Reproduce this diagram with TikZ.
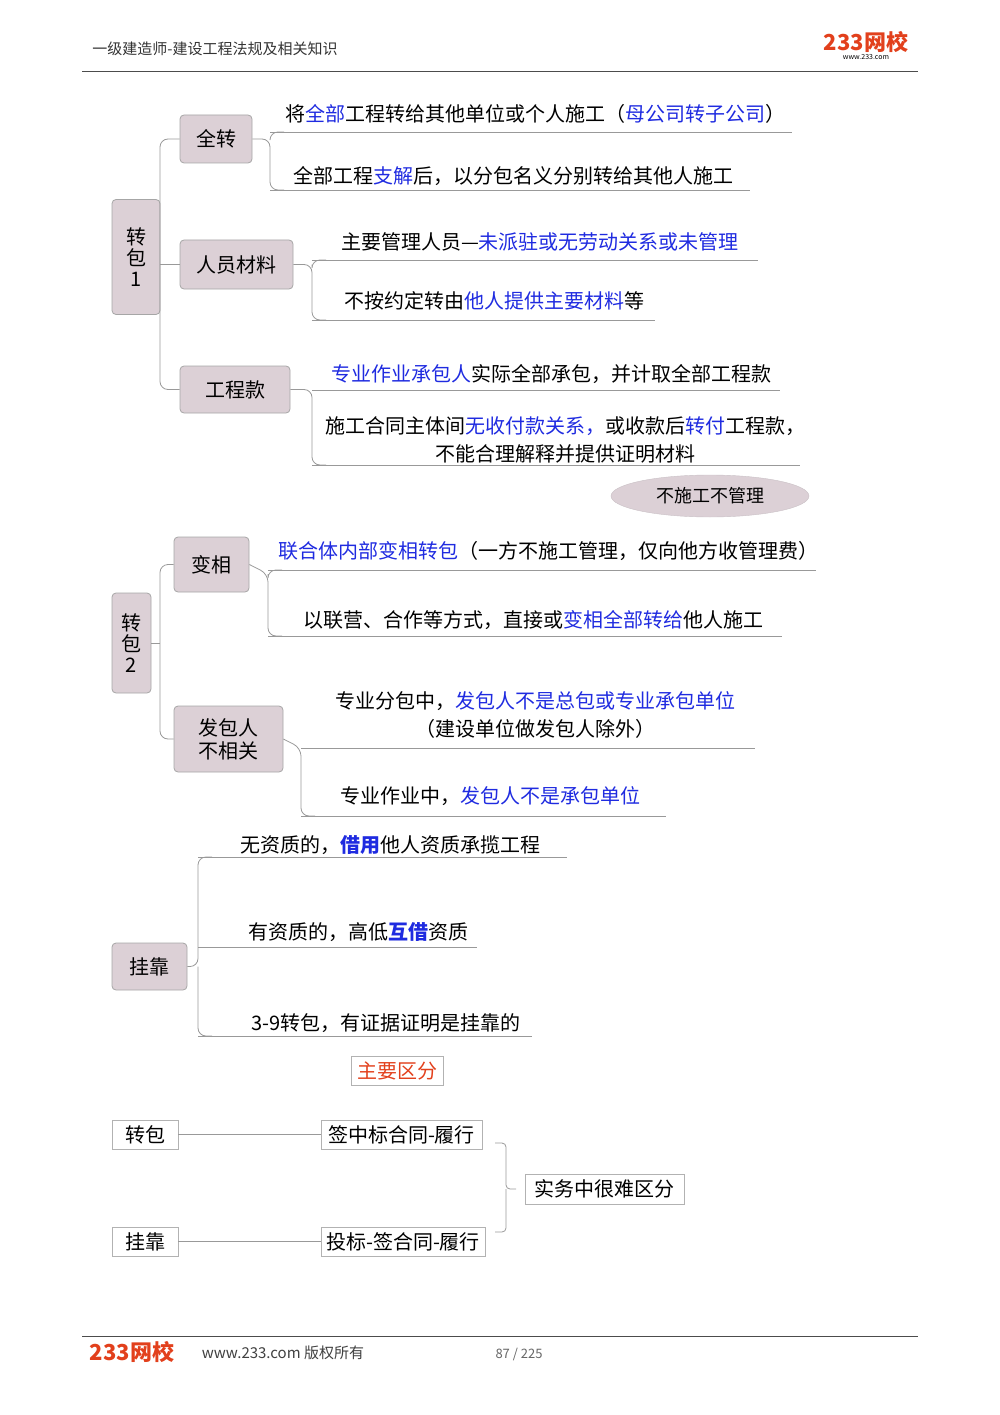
\documentclass[tikz,border=0pt]{standalone}
\usepackage{fontspec}
\setmainfont{Noto Sans CJK SC}
\usetikzlibrary{shapes.geometric}
\definecolor{bl}{HTML}{1F2BE0}
\definecolor{mv}{HTML}{DCD0D6}
\definecolor{rd}{HTML}{E2401C}
\newcommand{\B}[1]{\textcolor{bl}{#1}}
\tikzset{
 x=1pt,y=-1pt,
 cat/.style={draw=gray!70,fill=mv,rounded corners=4pt,line width=0.8pt,inner sep=0pt,font=\fontsize{20}{23}\selectfont},
 leaf/.style={font=\fontsize{20}{28}\selectfont,inner sep=0pt,align=center},
 ul/.style={draw=gray!80,line width=0.8pt},
 br/.style={draw=gray!80,line width=0.8pt,rounded corners=8pt},
 sq/.style={draw=gray!60,line width=0.8pt,inner sep=0pt,font=\fontsize{20}{23}\selectfont},
}
\begin{document}
\begin{tikzpicture}
\useasboundingbox (0,0) rectangle (1000,1415);
% header
\node[font=\fontsize{15}{18}\selectfont,text=black!80] (hd) at (215,49) {一级建造师-建设工程法规及相关知识};
\node[font=\fontsize{22}{22}\selectfont\bfseries,text=rd] (lg) at (866,42) {233网校};
\node[font=\fontsize{7}{7}\selectfont] (lgw) at (866,57) {www.233.com};
\draw[line width=1pt,black!70] (82,72) -- (918,72);
% footer
\draw[line width=1pt,black!70] (82,1336) -- (918,1336);
\node[font=\fontsize{22}{22}\selectfont\bfseries,text=rd] (flg) at (132,1352) {233网校};
\node[font=\fontsize{15}{18}\selectfont,text=black!75] (fw) at (283,1353) {www.233.com 版权所有};
\node[font=\fontsize{13}{16}\selectfont,text=black!60] (pg) at (519,1354) {87 / 225};

% ===== section 1
\node[cat,minimum width=48,minimum height=115,align=center] (z1) at (136,257) {转\\[-2pt]包\\[-2pt]1};
\node[cat,minimum width=72,minimum height=48] (qz) at (216,139) {全转};
\node[cat,minimum width=113,minimum height=49] (ry) at (236.5,264.5) {人员材料};
\node[cat,minimum width=110,minimum height=47] (gk) at (235,389.5) {工程款};
\draw[br] (qz.west) -- (160,139) -- (160,389.5) -- (gk.west);
\draw[br] (160,264.5) -- (ry.west);

\node[leaf] (a1) at (535,114) {将\B{全部}工程转给其他单位或个人施工（\B{母公司转子公司}）};
\node[leaf] (a2) at (513,176) {全部工程\B{支解}后，以分包名义分别转给其他人施工};
\draw[ul] (270,132) -- (792,132); \draw[ul] (270,190) -- (750,190);
\draw[br] (qz.east) -- (270,139) -- (270,190) -- (284,190);
\draw[br] (270,139) -- (270,132) -- (284,132);

\node[leaf] (b1) at (540,242) {主要管理人员—\B{未派驻或无劳动关系或未管理}};
\node[leaf] (b2) at (494,301) {不按约定转由\B{他人提供主要材料}等};
\draw[ul] (312,260) -- (758,260); \draw[ul] (312,320) -- (655,320);
\draw[br] (ry.east) -- (312,264.5) -- (312,320) -- (326,320);
\draw[br] (312,264.5) -- (312,260) -- (326,260);

\node[leaf] (c1) at (551,374) {\B{专业作业承包人}实际全部承包，并计取全部工程款};
\node[leaf] (c2) at (565,440) {施工合同主体间\B{无收付款关系，}或收款后\B{转付}工程款，\\不能合理解释并提供证明材料};
\draw[ul] (312,390) -- (780,390); \draw[ul] (312,465) -- (800,465);
\draw[br] (gk.east) -- (312,389.5) -- (312,465) -- (326,465);

\node[ellipse,fill=mv,draw=mv!80!gray,minimum width=198,minimum height=42,inner sep=0pt,font=\fontsize{18}{22}\selectfont] (bs) at (710,496) {不施工不管理};

% ===== section 2
\node[cat,minimum width=39,minimum height=100,align=center] (z2) at (131.5,643) {转\\[-2pt]包\\[-2pt]2};
\node[cat,minimum width=75,minimum height=55] (bx) at (211.5,564.5) {变相};
\node[cat,minimum width=109,minimum height=66,align=center,font=\fontsize{20}{23}\selectfont] (fb) at (228.5,739) {发包人\\不相关};
\draw[br] (bx.west) -- (160,564.5) -- (160,739) -- (fb.west);
\draw[br] (z2.east) -- (160,643);

\node[leaf] (d1) at (548,551) {\B{联合体内部变相转包}（一方不施工管理，仅向他方收管理费）};
\node[leaf] (d2) at (533,620) {以联营、合作等方式，直接或\B{变相全部转给}他人施工};
\draw[ul] (268,570) -- (816,570); \draw[ul] (268,636) -- (782,636);
\draw[br] (bx.east) -- (268,574) -- (268,636) -- (282,636);
\draw[br] (268,574) -- (268,570) -- (282,570);

\node[leaf] (e1) at (535,715) {专业分包中，\B{发包人不是总包或专业承包单位}\\（建设单位做发包人除外）};
\node[leaf] (e2) at (490,796) {专业作业中，\B{发包人不是承包单位}};
\draw[ul] (301,748) -- (755,748); \draw[ul] (301,816) -- (666,816);
\draw[br] (fb.east) -- (301,748) -- (301,816) -- (315,816);

% ===== section 3
\node[cat,minimum width=75,minimum height=47] (gk2) at (149.5,966.5) {挂靠};
\node[leaf] (f1) at (390,845) {无资质的，\textcolor{bl}{\bfseries 借用}他人资质承揽工程};
\node[leaf] (f2) at (358,932) {有资质的，高低\textcolor{bl}{\bfseries 互借}资质};
\node[leaf] (f3) at (386,1023) {3-9转包，有证据证明是挂靠的};
\draw[ul] (198,857) -- (567,857); \draw[ul] (198,947) -- (477,947); \draw[ul] (198,1036) -- (532,1036);
\draw[br] (gk2.east) -- (198,966.5) -- (198,857) -- (212,857);
\draw[br] (198,966.5) -- (198,1036) -- (212,1036);

\node[sq,minimum width=92,minimum height=29,text=rd] (zy) at (397,1070.5) {主要区分};

% ===== section 4
\node[sq,minimum width=66,minimum height=29] (p1) at (145,1134.5) {转包};
\node[sq,minimum width=161,minimum height=29] (p2) at (401.5,1134.5) {签中标合同-履行};
\node[sq,minimum width=66,minimum height=29] (q1) at (145,1241.5) {挂靠};
\node[sq,minimum width=164,minimum height=29] (q2) at (403,1241.5) {投标-签合同-履行};
\node[sq,minimum width=159,minimum height=30] (sw) at (604.5,1189) {实务中很难区分};
\draw[ul] (p1.east) -- (p2.west);
\draw[ul] (q1.east) -- (q2.west);
\draw[br,rounded corners=4pt] (495,1143) -- (506,1143) -- (506,1189) -- (516,1189);
\draw[br,rounded corners=4pt] (495,1232) -- (506,1232) -- (506,1189);
\end{tikzpicture}
\end{document}
